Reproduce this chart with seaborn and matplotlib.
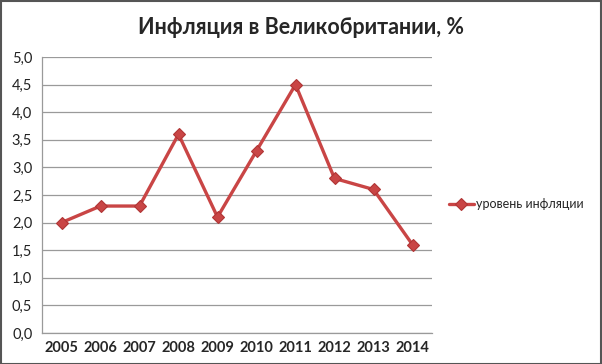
import matplotlib
matplotlib.use("Agg")
import matplotlib.pyplot as plt
import seaborn as sns
import pandas as pd
from matplotlib.patches import Rectangle
from matplotlib.ticker import FixedLocator, MultipleLocator, FuncFormatter

# =====================================================
# DATA
# =====================================================

years = ["2005", "2006", "2007", "2008", "2009",
         "2010", "2011", "2012", "2013", "2014"]
inflation = [2.0, 2.3, 2.3, 3.6, 2.1, 3.3, 4.5, 2.8, 2.6, 1.6]
series_name = "уровень инфляции"
title = "Инфляция в Великобритании, %"

df = pd.DataFrame({"year": years, "value": inflation, "series": series_name})

# =====================================================
# FIGURE
# =====================================================

sns.set_style("white")
plt.rcParams["font.family"] = ["Lato", "DejaVu Sans"]

fig = plt.figure(figsize=(6.02, 3.64), dpi=100)
ax = fig.add_axes([42 / 602, 31 / 364, 390 / 602, 276 / 364])

sns.lineplot(
    data=df, x="year", y="value", hue="series",
    palette=["#c94545"], marker="D", markersize=6,
    markeredgecolor="#b03535", markeredgewidth=0.8,
    linewidth=2.4, ax=ax, sort=False
)

ax.set_xlim(-0.5, len(years) - 0.5)
ax.set_ylim(0, 5)
ax.yaxis.set_major_locator(MultipleLocator(0.5))
ax.yaxis.set_major_formatter(FuncFormatter(lambda v, p: f"{v:.1f}".replace(".", ",")))

ax.grid(axis="y", color="#9a9a9a", linewidth=0.9)
ax.set_axisbelow(True)

# category boundary ticks
ax.xaxis.set_minor_locator(FixedLocator([i - 0.5 for i in range(len(years) + 1)]))
ax.tick_params(axis="x", which="major", length=0, labelsize=10.5, pad=6)
ax.tick_params(axis="x", which="minor", length=4, color="#9a9a9a", direction="out")
ax.tick_params(axis="y", length=4, color="#9a9a9a", direction="out",
               labelsize=10.5, pad=3, labelcolor="#222222")
for lbl in ax.get_xticklabels():
    lbl.set_fontweight("bold")

for side in ["top", "right"]:
    ax.spines[side].set_visible(False)
for side in ["left", "bottom"]:
    ax.spines[side].set_color("#9a9a9a")
    ax.spines[side].set_linewidth(0.9)

ax.set_xlabel("")
ax.set_ylabel("")

ax.legend(loc="center left", bbox_to_anchor=(1.03, 0.467), frameon=False,
          fontsize=9, handlelength=2.0, handletextpad=0.2, borderaxespad=0)

fig.text(0.5, 1 - 27 / 364, title, ha="center", va="center",
         fontsize=15.5, fontweight="bold")

# chart frame
fig.patches.append(Rectangle((0.5 / 602, 0.5 / 364), 1 - 1.5 / 602, 1 - 1.5 / 364,
                             transform=fig.transFigure, fill=False,
                             edgecolor="#555555", linewidth=1.5))

fig.savefig("out.png", dpi=100)
plt.close(fig)
